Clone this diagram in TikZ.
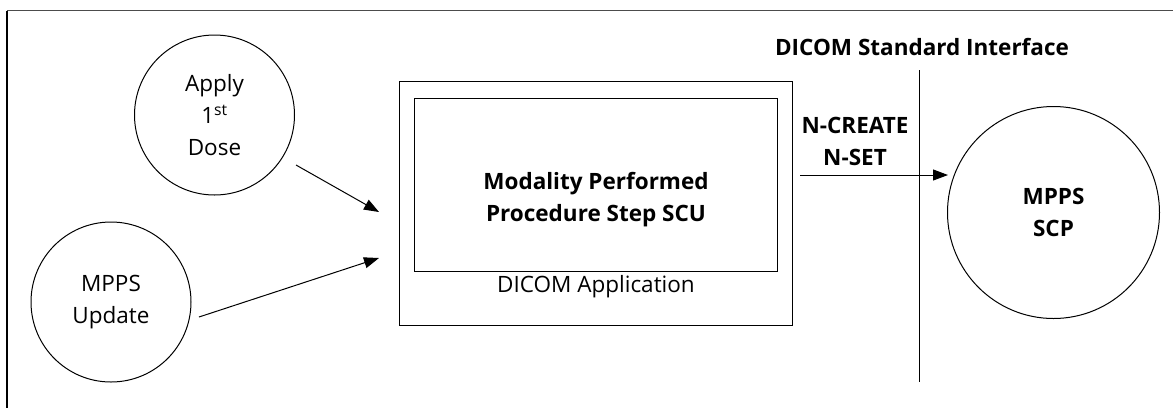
\documentclass[tikz,border=0pt]{standalone}
\usepackage{fontspec}
\setmainfont{Open Sans}
\usetikzlibrary{arrows.meta}
\tikzset{
  circ/.style={draw, circle, line width=1pt, minimum size=160pt, inner sep=0pt, align=center, font=\fontsize{22.5}{32}\selectfont},
  box/.style={draw, rectangle, line width=1pt, inner sep=0pt},
  lbl/.style={align=center, inner sep=0pt, font=\fontsize{22.5}{32}\selectfont},
  blbl/.style={lbl, font=\fontsize{22.5}{32}\selectfont\bfseries},
  arr/.style={line width=1pt, -{Triangle[length=15pt,width=11pt]}},
  ln/.style={line width=1pt}
}
\begin{document}
\begin{tikzpicture}[x=1pt,y=-1pt]
\useasboundingbox (0,0) rectangle (1173,408);
% frame
\draw[line width=1.5pt, black!70] (1173,10.5) -- (7,10.5);
\draw[line width=1.2pt] (7,10.5) -- (7,408);
% circles
\node[circ] (apply) at (214.5,115) {Apply\\1\textsuperscript{st}\\Dose};
\node[circ] (update) at (111,302) {MPPS\\Update};
\node[circ, minimum size=212pt, font=\fontsize{22.5}{32}\selectfont\bfseries] (scp) at (1053.5,212.5) {MPPS\\SCP};
% boxes
\node[box, minimum width=393pt, minimum height=244pt] (app) at (595.5,203) {};
\node[box, minimum width=363pt, minimum height=173pt] (inner) at (595.5,184.5) {};
\node[blbl] (scu) at (596,200) {Modality Performed\\Procedure Step SCU};
\node[lbl] (applbl) at (596,287) {DICOM Application};
% interface
\coordinate (ifTop) at (919,70);
\coordinate (ifBot) at (919,382);
\draw[ln] (ifTop) -- (ifBot);
\node[blbl] (iflbl) at (922,47) {DICOM Standard Interface};
\node[blbl] (msg) at (855,141) {N-CREATE\\N-SET};
% arrows
\coordinate (a1s) at (296,165);
\coordinate (a1e) at (379,212);
\coordinate (a2s) at (199,317);
\coordinate (a2e) at (379,258);
\coordinate (a3s) at (800,175);
\coordinate (a3e) at (948,175);
\draw[arr] (a1s) -- (a1e);
\draw[arr] (a2s) -- (a2e);
\draw[arr] (a3s) -- (a3e);
\end{tikzpicture}
\end{document}
